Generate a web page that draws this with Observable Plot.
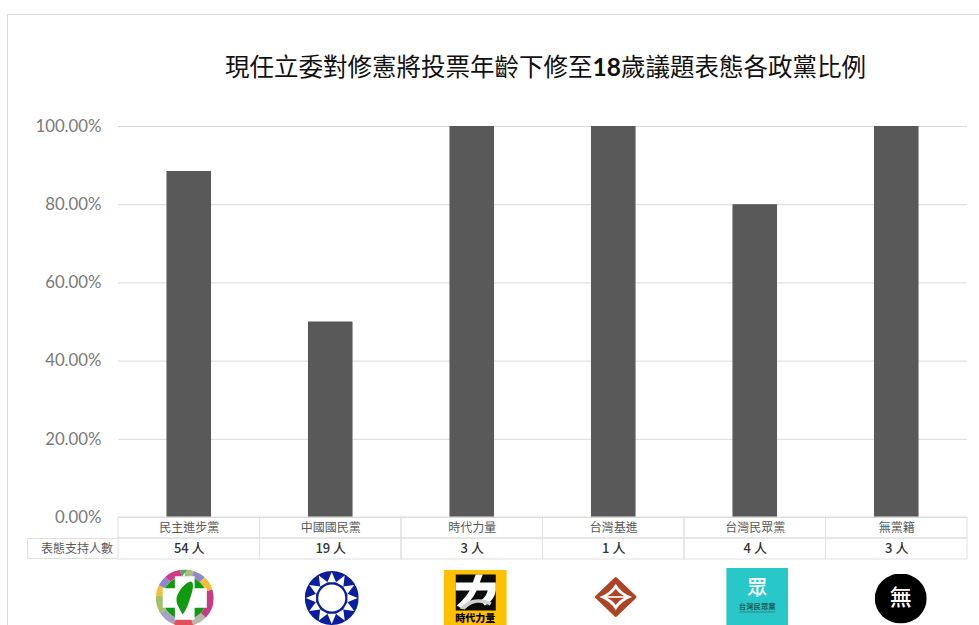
<!DOCTYPE html>
<html><head><meta charset="utf-8">
<script src="https://cdn.jsdelivr.net/npm/d3@7"></script>
<script src="https://cdn.jsdelivr.net/npm/@observablehq/plot@0.6"></script>
<style>
html,body{margin:0;padding:0;background:#fff;overflow:hidden}
#page{position:relative;width:979px;height:625px;overflow:hidden}
#frame{position:absolute;left:7px;top:14px;width:972px;height:611px;border-left:1px solid #dcdcdc;border-top:1px solid #dcdcdc;box-sizing:border-box}
#title{position:absolute;left:225px;top:48px;white-space:nowrap;font:24.5px/36px "Noto Sans CJK TC",serif;color:#111}
#title b{font-family:Lato,sans-serif;font-weight:700}
#rowlabel{position:absolute;left:27px;top:538px;width:91px;height:21px;box-sizing:border-box;border:1px solid #e0e0e0;border-right:0;font:12px/18px "Noto Sans CJK TC",sans-serif;color:#595959;text-align:right;padding-right:5px}
#main,#table{position:absolute;left:0}
#main{top:100px}
#table{top:516px}
svg{background:transparent!important;overflow:visible}
</style></head><body>
<div id="page">
<div id="frame"></div>
<div id="title">現任立委對修憲將投票年齡下修至<b>18</b>歲議題表態各政黨比例</div>
<div id="main"></div>
<div id="table"></div>
<div id="rowlabel">表態支持人數</div>
</div>
<script>
const parties = ["民主進步黨","中國國民黨","時代力量","台灣基進","台灣民眾黨","無黨籍"];
const shares = [88.5,50,100,100,80,100];
const supporters = ["54 人","19 人","3 人","1 人","4 人","3 人"];
const yTicks = [0,20,40,60,80,100];
const rows = ["政黨","人數"];
const cjk = "'Noto Sans CJK TC',sans-serif";

const bars = parties.map((p,i)=>({party:p,share:shares[i]}));
const W = 979, L = 118, R = 12;

document.getElementById("main").append(Plot.plot({
  width:W, height:430, marginLeft:L, marginRight:R, marginTop:26, marginBottom:13,
  x:{domain:parties, paddingInner:0.685, paddingOuter:0.3425, round:false, axis:null},
  y:{domain:[0,100], ticks:yTicks, axis:null},
  marks:[
    Plot.gridY(yTicks,{stroke:"#d9d9d9",strokeOpacity:1}),
    Plot.barY(bars,{x:"party",y:"share",fill:"#595959"}),
    Plot.axisY(yTicks,{tickSize:0,tickPadding:17,label:null,tickFormat:d=>d.toFixed(2)+"%",
      fontFamily:"Lato,sans-serif",fontSize:16.8,fill:"#7a7a7a"})
  ]
}));

const uri = s => "data:image/svg+xml,"+encodeURIComponent(s);
const seg = (c,o,l)=>`<circle r="44" fill="none" stroke="${c}" stroke-width="12" pathLength="100" stroke-dasharray="${l} ${100-l}" stroke-dashoffset="${-o}"/>`;
const dpp = uri(`<svg xmlns="http://www.w3.org/2000/svg" viewBox="-50 -50 100 100">
<g transform="rotate(-90)">${seg("#a9c07a",0,5)}${seg("#9088cc",5,7)}${seg("#f5bd3a",12,8)}${seg("#c93a86",20,17)}${seg("#b9b4ae",37,8)}${seg("#e4505a",45,11)}${seg("#a8a4c0",56,10)}${seg("#a6c06a",66,10)}${seg("#f2c040",76,6)}${seg("#8f86cc",82,6)}${seg("#d03a86",88,9)}${seg("#55a860",97,3)}</g>
<circle r="38" fill="#0f9a0f"/>
<path d="M-17 -38H17V-17H38V17H17V38H-17V17H-38V-17H-17Z" fill="#fff"/>
<path d="M11 -29C16 -27 15 -16 10 -2C7 9 2 24 -4 29C-8 19 -16 10 -14 -1C-10 -15 2 -28 11 -29Z" fill="#0f9a0f"/></svg>`);
const rays = d3.range(12).map(i=>`<path d="M-8 -29L0 -48L8 -29Z" fill="#fff" transform="rotate(${i*30})"/>`).join("");
const kmt = uri(`<svg xmlns="http://www.w3.org/2000/svg" viewBox="-50 -50 100 100"><circle r="50" fill="#0b1f9c"/>${rays}<circle r="25" fill="#fff"/></svg>`);
const npp = uri(`<svg xmlns="http://www.w3.org/2000/svg" viewBox="0 0 63 56"><rect width="63" height="56" fill="#ffc000"/><rect x="12" y="5" width="40" height="36" fill="#0a0a0a"/>
<path d="M12 13H29L32 5H39L36 13H52V21C51 28 47 33 41 36L37 31C41 28 43 25 44 21H33C29 29 24 35 18 39L13 36C19 31 23 26 26 21H12Z" fill="#fff"/>
<path d="M16 39C24 29 36 27 48 33L46 36C36 31 27 33 21 40Z" fill="#cfcfcf"/></svg>`);
const basis = uri(`<svg xmlns="http://www.w3.org/2000/svg" viewBox="-50 -50 100 100"><path d="M0 -46L46 0L0 46L-46 0Z" fill="#ad4426" stroke="#ad4426" stroke-width="7" stroke-linejoin="round"/>
<path d="M-39 0Q-12 -10 0 -33Q12 -10 39 0Q12 10 0 33Q-12 10 -39 0Z" fill="#fff"/>
<path d="M-23 0Q-8 -8 0 -20Q8 -8 23 0Q8 8 0 20Q-8 8 -23 0Z" fill="#ad4426"/><rect x="-23" y="-2" width="46" height="4" fill="#fff"/></svg>`);
const tpp = uri(`<svg xmlns="http://www.w3.org/2000/svg" viewBox="0 0 62 58"><rect width="62" height="58" fill="#28c8c8"/><rect x="13" y="44" width="36" height="1" fill="#3c7e82"/></svg>`);
const none = uri(`<svg xmlns="http://www.w3.org/2000/svg" viewBox="-50 -50 100 100"><circle r="50" fill="#000"/></svg>`);

const cells = parties.flatMap(p=>rows.map(r=>({party:p,row:r})));
const labels = parties.map((p,i)=>({party:p,row:rows[0],text:p}));
const counts = parties.map((p,i)=>({party:p,row:rows[1],text:supporters[i]}));
const at = i => [{party:parties[i],row:rows[1]}];
const logo = (i,src,w,h,dx,dy)=>Plot.image(at(i),{x:"party",y:"row",src:()=>src,width:w,height:h,dx,dy,preserveAspectRatio:"none"});
const cap = (i,t,size,fill,dx,dy,weight)=>Plot.text(at(i),{x:"party",y:"row",text:()=>t,fontSize:size,fill,dx,dy,fontWeight:weight,fontFamily:cjk});

document.getElementById("table").append(Plot.plot({
  width:W, height:109, marginLeft:L, marginRight:R, marginTop:1, marginBottom:66,
  x:{domain:parties, padding:0, round:false, axis:null},
  y:{domain:rows, padding:0, round:false, axis:null},
  marks:[
    Plot.cell(cells,{x:"party",y:"row",fill:"none",stroke:"#e0e0e0",strokeWidth:1}),
    Plot.text(labels,{x:"party",y:"row",text:"text",fontSize:12,fill:"#595959",fontFamily:cjk}),
    Plot.text(counts,{x:"party",y:"row",text:"text",fontSize:13,fill:"#333",fontWeight:500,fontFamily:cjk}),
    logo(0,dpp,58,57,-4.5,49),
    logo(1,kmt,54,54,1,49),
    logo(2,npp,63,56,3,48.5),
    cap(2,"時代力量",10,"#000",3,70,900),
    logo(3,basis,42,40,2,48),
    logo(4,tpp,62,58,2,47.5),
    cap(4,"眾",20,"#fff",2,39.5,500),
    cap(4,"台灣民眾黨",7.4,"#1d5f63",2,57.5,700),
    logo(5,none,52,50,4,49.5),
    cap(5,"無",22,"#fff",4,49,500)
  ]
}));
</script>
</body></html>
